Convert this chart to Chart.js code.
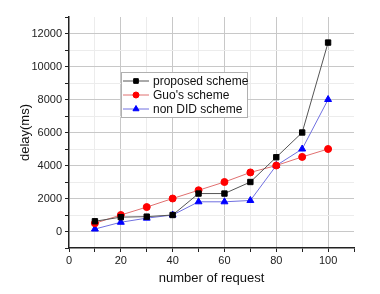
<!DOCTYPE html>
<html>
<head>
<meta charset="utf-8">
<script src="https://cdn.jsdelivr.net/npm/chart.js@4"></script>
<style>
  html, body { margin: 0; padding: 0; background: #fff; }
  #wrap { width: 380px; height: 294px; position: relative; }
</style>
</head>
<body>
<div id="wrap"><canvas id="delayChart"></canvas></div>
<script>
// data
const requests = [10, 20, 30, 40, 50, 60, 70, 80, 90, 100];
const proposedDelay = [620, 870, 900, 1000, 2300, 2300, 3000, 4500, 6000, 11450];
const guoDelay = [500, 1000, 1480, 2000, 2500, 3000, 3580, 4000, 4520, 5000];
const nonDidDelay = [150, 560, 810, 1000, 1800, 1800, 1880, 4000, 5000, 8000];
const seriesNames = ['proposed scheme', "Guo's scheme", 'non DID scheme'];

const font = 'Arial, "Liberation Sans", sans-serif';

// legend box drawn inside the plot, like the original figure
const boxLegend = {
    id: 'boxLegend',
    afterDraw(chart) {
        const ctx = chart.ctx;
        const x0 = 121, y0 = 72, w = 126, h = 45;
        ctx.save();
        ctx.fillStyle = '#fff';
        ctx.fillRect(x0, y0, w, h);
        ctx.strokeStyle = '#b0b0b0';
        ctx.lineWidth = 1;
        ctx.strokeRect(x0 + 0.5, y0 + 0.5, w, h);
        chart.data.datasets.forEach((ds, i) => {
            const y = y0 + 9 + i * 14;
            ctx.strokeStyle = ds.borderColor;
            ctx.lineWidth = 1;
            ctx.beginPath();
            ctx.moveTo(x0 + 2, y);
            ctx.lineTo(x0 + 28, y);
            ctx.stroke();
            ctx.fillStyle = ds.pointBackgroundColor;
            ctx.strokeStyle = ds.pointBackgroundColor;
            Chart.helpers.drawPoint(ctx, {
                pointStyle: ds.pointStyle,
                radius: ds.pointRadius - 0.5,
                borderWidth: 1
            }, x0 + 15, y);
            ctx.fillStyle = '#111';
            ctx.font = '12px ' + font;
            ctx.textBaseline = 'middle';
            ctx.fillText(ds.label, x0 + 32, y + 0.5);
        });
        ctx.restore();
    }
};

new Chart(document.getElementById('delayChart'), {
    type: 'line',
    data: {
        datasets: [{
            label: seriesNames[0],
            data: requests.map((r, i) => ({ x: r, y: proposedDelay[i] })),
            borderColor: '#555',
            pointBackgroundColor: '#000',
            pointBorderColor: '#000',
            pointStyle: 'rect',
            pointRadius: 3.8,
            borderWidth: 1
        }, {
            label: seriesNames[1],
            data: requests.map((r, i) => ({ x: r, y: guoDelay[i] })),
            borderColor: '#e07070',
            pointBackgroundColor: '#f00',
            pointBorderColor: '#f00',
            pointStyle: 'circle',
            pointRadius: 3.5,
            borderWidth: 1
        }, {
            label: seriesNames[2],
            data: requests.map((r, i) => ({ x: r, y: nonDidDelay[i] })),
            borderColor: '#7070e0',
            pointBackgroundColor: '#00f',
            pointBorderColor: '#00f',
            pointStyle: 'triangle',
            pointRadius: 4,
            borderWidth: 1
        }]
    },
    options: {
        responsive: true,
        maintainAspectRatio: false,
        animation: false,
        layout: { padding: { top: 17, right: 26, left: 0, bottom: 0 } },
        plugins: {
            legend: { display: false },
            tooltip: { enabled: false }
        },
        scales: {
            x: {
                type: 'linear',
                min: 0,
                max: 110,
                ticks: {
                    stepSize: 10,
                    autoSkip: false,
                    maxRotation: 0,
                    color: '#222',
                    font: { family: font, size: 11 },
                    padding: 2,
                    callback: v => (v % 20 === 0 && v <= 100) ? v : ''
                },
                grid: {
                    color: c => {
                        const v = c.tick.value;
                        if (v === 0 || v === 110) return 'rgba(0,0,0,0)';
                        return v % 20 === 0 ? '#c8c8c8' : '#ececec';
                    },
                    tickColor: '#222',
                    tickLength: 4
                },
                border: { color: '#222', width: 1.5 },
                title: {
                    display: true,
                    text: 'number of request',
                    color: '#111',
                    font: { family: font, size: 13 },
                    padding: { top: 4, bottom: 8 }
                },
                afterFit: s => { s.height = 46; }
            },
            y: {
                min: -1000,
                max: 13000,
                ticks: {
                    stepSize: 1000,
                    autoSkip: false,
                    color: '#222',
                    font: { family: font, size: 11 },
                    padding: 3,
                    callback: v => (v % 2000 === 0 && v >= 0 && v <= 12000) ? v : ''
                },
                grid: {
                    color: c => {
                        const v = c.tick.value;
                        if (v === -1000 || v === 13000) return 'rgba(0,0,0,0)';
                        return v % 2000 === 0 ? '#c8c8c8' : '#ececec';
                    },
                    tickColor: '#222',
                    tickLength: 4
                },
                border: { color: '#222', width: 1.5 },
                title: {
                    display: true,
                    text: 'delay(ms)',
                    color: '#111',
                    font: { family: font, size: 13 },
                    padding: { top: 18, bottom: 4 }
                },
                afterFit: s => { s.width = 69; }
            }
        }
    },
    plugins: [boxLegend]
});
</script>
</body>
</html>
